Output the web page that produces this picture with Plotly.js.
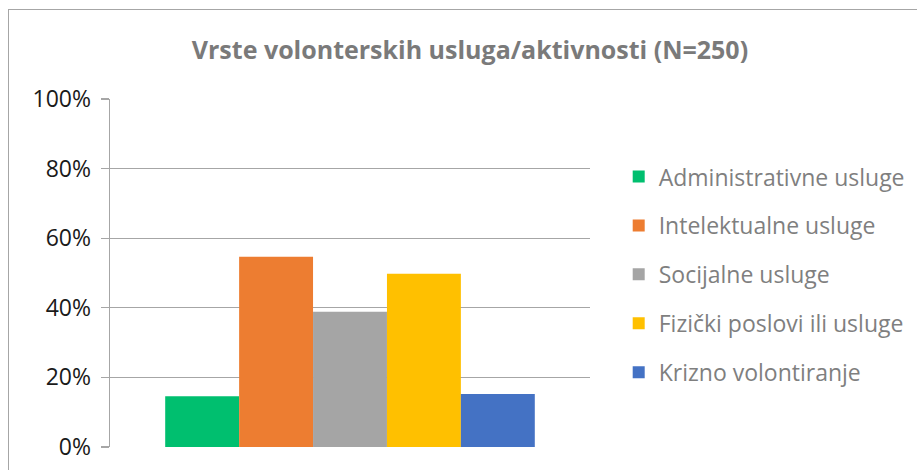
<!DOCTYPE html>
<html>
<head>
<meta charset="utf-8">
<script src="https://cdn.plot.ly/plotly-3.0.1.min.js"></script>
<style>
html,body{margin:0;padding:0;background:#fff;}
#wrap{position:relative;width:917px;height:470px;overflow:hidden;}
#frame{position:absolute;left:8px;top:9px;width:1000px;height:1000px;border:1px solid #a6a6a6;box-sizing:border-box;pointer-events:none;}
#chart{position:absolute;left:0;top:0;width:917px;height:470px;}
</style>
</head>
<body>
<div id="wrap">
<div id="chart"></div>
<div id="frame"></div>
</div>
<script>
const titleText = "Vrste volonterskih usluga/aktivnosti (N=250)";
const seriesNames = ["Administrativne usluge", "Intelektualne usluge", "Socijalne usluge", "Fizički poslovi ili usluge", "Krizno volontiranje"];
const seriesValues = [0.146, 0.547, 0.389, 0.498, 0.152];
const seriesColors = ["#00bf6f", "#ed7d31", "#a5a5a5", "#ffc000", "#4472c4"];
const category = ["Vrste"];
const yTickVals = [0, 0.2, 0.4, 0.6, 0.8, 1.0];
const yTickText = ["0%", "20%", "40%", "60%", "80%", "100%"];

const traces = seriesNames.map((name, i) => ({
  type: "bar",
  name: name,
  x: category,
  y: [seriesValues[i]],
  marker: {color: seriesColors[i]},
  legendgroup: "g" + i,
  hoverinfo: "skip"
}));

const layout = {
  width: 917,
  height: 470,
  margin: {l: 110, r: 327, t: 99, b: 23, pad: 0},
  paper_bgcolor: "#ffffff",
  plot_bgcolor: "#ffffff",
  barmode: "group",
  bargap: 0.23,
  bargroupgap: 0,
  title: {
    text: "<b>" + titleText + "</b>",
    font: {family: "Open Sans, sans-serif", size: 25, color: "#7a7a7a"},
    x: 0.5125, xanchor: "center", xref: "container",
    y: 0.894, yanchor: "middle", yref: "container"
  },
  xaxis: {
    showticklabels: false,
    showgrid: false,
    zeroline: false,
    showline: false,
    ticks: "",
    fixedrange: true
  },
  yaxis: {
    range: [0, 1.0],
    tickvals: yTickVals,
    ticktext: yTickText,
    showgrid: true,
    gridcolor: "#a6a6a6",
    gridwidth: 1.4,
    zeroline: false,
    showline: true,
    linecolor: "#a6a6a6",
    linewidth: 1.4,
    ticks: "outside",
    ticklen: 8,
    tickcolor: "#a6a6a6",
    tickwidth: 1.4,
    ticklabelstandoff: 5,
    tickfont: {family: "Open Sans, sans-serif", size: 23, color: "#1a1a1a"},
    fixedrange: true
  },
  showlegend: true,
  legend: {
    x: 0.6747, xref: "container", xanchor: "left",
    y: 0.420, yref: "container", yanchor: "middle",
    traceorder: "grouped",
    tracegroupgap: 16,
    font: {family: "Open Sans, sans-serif", size: 23, color: "#7f7f7f"},
    itemwidth: 30,
    bgcolor: "rgba(0,0,0,0)"
  }
};

Plotly.newPlot("chart", traces, layout, {displayModeBar: false, staticPlot: true});
</script>
</body>
</html>
